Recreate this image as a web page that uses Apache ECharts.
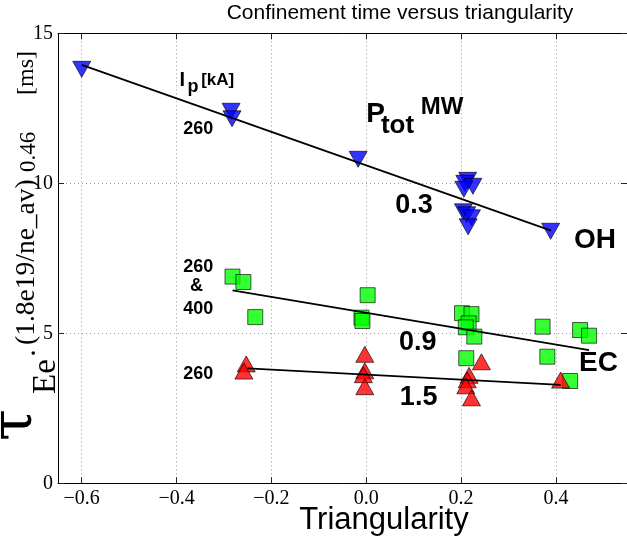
<!DOCTYPE html>
<html>
<head>
<meta charset="utf-8">
<script src="https://cdn.jsdelivr.net/npm/echarts@6/dist/echarts.min.js"></script>
<style>
  html, body { margin: 0; padding: 0; background: #fff; }
  #chart { width: 627px; height: 539px; }
</style>
</head>
<body>
<div id="chart"></div>
<script>
// Ohmic (OH) discharges, 0.3 MW
const ohDelta = [-0.600, -0.285, -0.283, -0.017, 0.214, 0.208, 0.225, 0.206, 0.205, 0.212, 0.222, 0.215, 0.389];
const ohTau   = [13.80, 12.40, 12.15, 10.80, 10.10, 10.00, 9.90, 9.80, 9.05, 8.95, 8.85, 8.55, 8.40];

// EC heated discharges, 0.9 MW
const ecDelta = [-0.282, -0.259, -0.234, -0.010, -0.008, 0.003, 0.202, 0.222, 0.216, 0.210, 0.228, 0.211, 0.372, 0.382, 0.451, 0.470, 0.430];
const ecTau   = [6.89, 6.71, 5.54, 5.52, 5.41, 6.27, 5.67, 5.64, 5.33, 5.20, 4.89, 4.17, 5.22, 4.22, 5.11, 4.92, 3.41];

// EC heated discharges, 1.5 MW
const hiDelta = [-0.253, -0.258, -0.003, -0.003, -0.006, -0.003, 0.243, 0.217, 0.213, 0.210, 0.222, 0.410];
const hiTau   = [3.98, 3.74, 4.30, 3.75, 3.62, 3.22, 4.05, 3.60, 3.45, 3.25, 2.85, 3.44];

// Linear fits (end points)
const ohFitDelta = [-0.600, 0.390];
const ohFitTau   = [13.95, 8.42];
const ecFitDelta = [-0.282, 0.470];
const ecFitTau   = [6.43, 4.44];
const hiFitDelta = [-0.250, 0.410];
const hiFitTau   = [3.83, 3.28];

// Axis ticks
const xTicks = [-0.6, -0.4, -0.2, 0.0, 0.2, 0.4];
const yTicks = [0, 5, 10, 15];

const SERIF = '"Liberation Serif", "Times New Roman", serif';
const SANS = '"Liberation Sans", Arial, Helvetica, sans-serif';

const pairs = (xs, ys) => xs.map((x, i) => [x, ys[i]]);
const fmtX = v => (v < 0 ? '\u2212' : '') + Math.abs(v).toFixed(1);

const chart = echarts.init(document.getElementById('chart'), null, { renderer: 'canvas' });

const gridStyle = { type: [1, 3], color: '#9a9a9a', width: 1 };
const tickStyle = { color: '#222', width: 1 };

const xBottom = {
  type: 'value', position: 'bottom', min: -0.65, max: 0.55,
  axisLine: { show: true, onZero: false, lineStyle: { color: '#000', width: 1 } },
  axisTick: { show: true, inside: true, length: 6, customValues: xTicks, lineStyle: tickStyle },
  axisLabel: { show: true, customValues: xTicks, formatter: fmtX, color: '#000',
               fontFamily: SERIF, fontSize: 20, margin: 5 },
  splitLine: { show: true, lineStyle: gridStyle }
};
const xTop = {
  type: 'value', position: 'top', min: -0.65, max: 0.55,
  axisLine: { show: true, onZero: false, lineStyle: { color: '#000', width: 1 } },
  axisTick: { show: true, inside: true, length: 6, customValues: xTicks, lineStyle: tickStyle },
  axisLabel: { show: false },
  splitLine: { show: false }
};
const yLeft = {
  type: 'value', position: 'left', min: 0, max: 15, interval: 5,
  axisLine: { show: true, onZero: false, lineStyle: { color: '#000', width: 1 } },
  axisTick: { show: true, inside: true, length: 6, lineStyle: tickStyle },
  axisLabel: { show: true, color: '#000', fontFamily: SERIF, fontSize: 20, margin: 5,
               customValues: yTicks },
  splitLine: { show: true, lineStyle: gridStyle }
};
const yRight = {
  type: 'value', position: 'right', min: 0, max: 15, interval: 5,
  axisLine: { show: true, onZero: false, lineStyle: { color: '#000', width: 1 } },
  axisTick: { show: true, inside: true, length: 6, lineStyle: tickStyle },
  axisLabel: { show: false },
  splitLine: { show: false }
};

const markerEdge = { borderColor: '#000', borderWidth: 0.8 };

chart.setOption({
  animation: false,
  backgroundColor: '#fff',
  grid: { left: 58, right: -3.4, top: 33.3, bottom: 55.7, containLabel: false },
  xAxis: [xBottom, xTop],
  yAxis: [yLeft, yRight],
  series: [
    { name: 'EC 0.9', type: 'scatter', xAxisIndex: 0, yAxisIndex: 0,
      symbol: 'rect', symbolSize: 15,
      itemStyle: Object.assign({ color: '#00ff00' }, markerEdge),
      data: pairs(ecDelta, ecTau) },
    { name: 'EC 1.5', type: 'scatter', xAxisIndex: 0, yAxisIndex: 0,
      symbol: 'triangle', symbolSize: [18, 16],
      itemStyle: Object.assign({ color: '#ff0000' }, markerEdge),
      data: pairs(hiDelta, hiTau) },
    { name: 'OH 0.3', type: 'scatter', xAxisIndex: 0, yAxisIndex: 0,
      symbol: 'triangle', symbolRotate: 180, symbolSize: [18, 16],
      itemStyle: Object.assign({ color: '#0000ff' }, markerEdge),
      data: pairs(ohDelta, ohTau) },
    { name: 'OH fit', type: 'line', symbol: 'none', z: 5,
      lineStyle: { color: '#000', width: 1.8 }, data: pairs(ohFitDelta, ohFitTau) },
    { name: 'EC fit', type: 'line', symbol: 'none', z: 5,
      lineStyle: { color: '#000', width: 1.8 }, data: pairs(ecFitDelta, ecFitTau) },
    { name: 'EC 1.5 fit', type: 'line', symbol: 'none', z: 5,
      lineStyle: { color: '#000', width: 1.8 }, data: pairs(hiFitDelta, hiFitTau) }
  ]
});

// Annotations: [text, delta, tau (baseline-left), font size, family, weight, align]
const notes = [
  ['I', -0.394, 13.21, 20, SANS, 'bold', 'left'],
  ['p', -0.377, 13.01, 18, SANS, 'bold', 'left'],
  ['[kA]', -0.348, 13.24, 17, SANS, 'bold', 'left'],
  ['260', -0.386, 11.61, 18, SANS, 'bold', 'left'],
  ['P', 0.000, 11.98, 28, SANS, 'bold', 'left'],
  ['tot', 0.031, 11.61, 26, SANS, 'bold', 'left'],
  ['MW', 0.115, 12.25, 24, SANS, 'bold', 'left'],
  ['0.3', 0.061, 8.94, 27, SANS, 'bold', 'left'],
  ['OH', 0.438, 7.78, 28, SANS, 'bold', 'left'],
  ['260', -0.386, 7.01, 18, SANS, 'bold', 'left'],
  ['&', -0.358, 6.38, 18, SANS, 'bold', 'center'],
  ['400', -0.386, 5.61, 18, SANS, 'bold', 'left'],
  ['0.9', 0.069, 4.38, 27, SANS, 'bold', 'left'],
  ['EC', 0.449, 3.68, 28, SANS, 'bold', 'left'],
  ['260', -0.386, 3.44, 18, SANS, 'bold', 'left'],
  ['1.5', 0.071, 2.54, 27, SANS, 'bold', 'left']
];

// Vertical axis label pieces: [text, bottom y, baseline x, font]
const yLabelParts = [
  ['\u03c4', 441, 36, '58px "DejaVu Serif", serif'],
  ['Ee', 394, 58, `33px ${SERIF}`],
  ['\u00b7', 358, 45, `30px ${SERIF}`],
  ['(1.8e19/ne_av)', 345, 36, `27.5px ${SERIF}`],
  ['0.46', 172, 37, `23px ${SERIF}`],
  ['[ms]', 95, 35, `24px ${SERIF}`]
];

function fontSize(f) { return parseFloat(f); }

function build() {
  const g = [];
  notes.forEach(n => {
    const p = chart.convertToPixel({ xAxisIndex: 0, yAxisIndex: 0 }, [n[1], n[2]]);
    g.push({
      type: 'text', z: 10,
      style: {
        text: n[0], x: p[0], y: p[1] - 0.34 * n[3],
        font: `${n[5]} ${n[3]}px ${n[4]}`, fill: '#000',
        align: n[6], verticalAlign: 'middle'
      }
    });
  });
  g.push({
    type: 'group', x: 0, y: 0, rotation: Math.PI / 2, z: 10,
    children: yLabelParts.map(p => ({
      type: 'text',
      style: {
        text: p[0], x: -p[1], y: p[2] - 0.34 * fontSize(p[3]),
        font: p[3], fill: '#000',
        align: 'left', verticalAlign: 'middle'
      }
    }))
  });
  g.push({
    type: 'text', z: 10,
    style: { text: 'Confinement time versus triangularity', x: 400, y: 13,
             font: `21px ${SANS}`, fill: '#000', align: 'center', verticalAlign: 'middle' }
  });
  g.push({
    type: 'text', z: 10,
    style: { text: 'Triangularity', x: 384, y: 520,
             font: `31px ${SANS}`, fill: '#000', align: 'center', verticalAlign: 'middle' }
  });
  chart.setOption({ graphic: { elements: g } });
}
build();
</script>
</body>
</html>
